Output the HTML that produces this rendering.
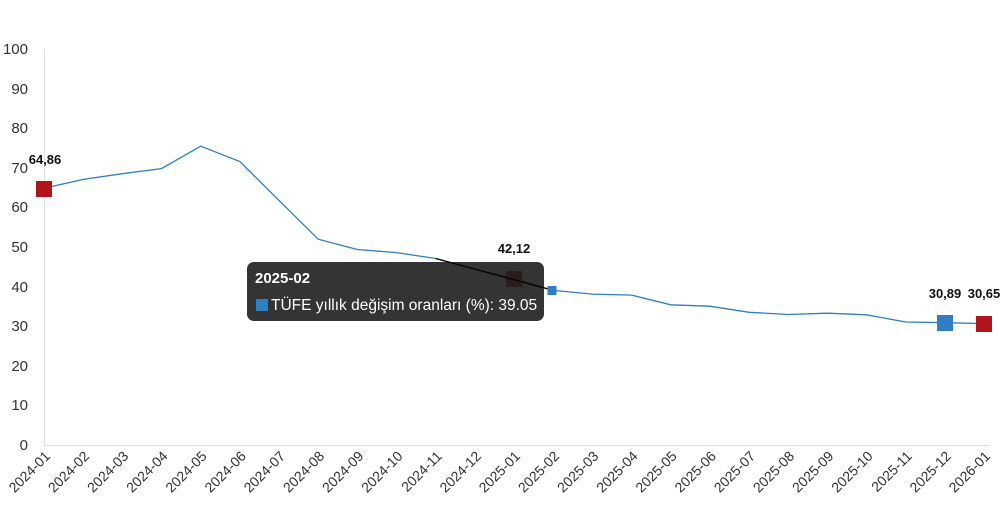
<!DOCTYPE html>
<html><head><meta charset="utf-8"><style>
html,body{margin:0;padding:0;background:#fff;width:1000px;height:513px;overflow:hidden}
svg{display:block;font-family:"Liberation Sans",Arial,sans-serif}
</style></head><body>
<svg width="1000" height="513" viewBox="0 0 1000 513">
<g font-size="15" fill="#333" text-anchor="end">
<text x="28" y="54">100</text><text x="28" y="94">90</text><text x="28" y="133">80</text>
<text x="28" y="173">70</text><text x="28" y="212">60</text><text x="28" y="252">50</text>
<text x="28" y="292">40</text><text x="28" y="331">30</text><text x="28" y="371">20</text>
<text x="28" y="410">10</text><text x="28" y="450">0</text>
</g>
<line x1="44.5" y1="49" x2="44.5" y2="445" stroke="#ddd"/>
<line x1="44" y1="445.5" x2="990" y2="445.5" stroke="#ddd"/>
<polyline fill="none" stroke="#2f7fc1" stroke-width="1.3" points="44,188.2 83.2,179.4 122.3,173.7 161.5,168.6 200.7,146.2 239.9,161.5 279,200.4 318.2,239.2 357.4,249.5 396.5,252.6 435.7,258.5 474.9,269.3 514,278.2 553.2,290.4 592.4,294.1 631.6,295.1 670.7,304.8 709.9,306.2 749.1,312.3 788.2,314.5 827.4,313.2 866.6,314.8 905.7,322 944.9,322.7 984,323.6"/>
<rect x="36" y="181" width="16" height="16" fill="#b0141c"/>
<rect x="937" y="315" width="16" height="16" fill="#2f7fc1"/>
<rect x="976" y="316" width="16" height="16" fill="#b0141c"/>
<rect x="506" y="271" width="16" height="16" fill="#b0141c"/>
<g font-size="13" font-weight="bold" fill="#111" text-anchor="middle">
<text x="45" y="164">64,86</text><text x="514" y="253">42,12</text>
<text x="945" y="298">30,89</text><text x="984" y="298">30,65</text>
</g>
<g font-size="14" fill="#333" text-anchor="end">
<text transform="translate(51,457) rotate(-45)">2024-01</text>
<text transform="translate(90.2,457) rotate(-45)">2024-02</text>
<text transform="translate(129.3,457) rotate(-45)">2024-03</text>
<text transform="translate(168.5,457) rotate(-45)">2024-04</text>
<text transform="translate(207.7,457) rotate(-45)">2024-05</text>
<text transform="translate(246.9,457) rotate(-45)">2024-06</text>
<text transform="translate(286,457) rotate(-45)">2024-07</text>
<text transform="translate(325.2,457) rotate(-45)">2024-08</text>
<text transform="translate(364.4,457) rotate(-45)">2024-09</text>
<text transform="translate(403.5,457) rotate(-45)">2024-10</text>
<text transform="translate(442.7,457) rotate(-45)">2024-11</text>
<text transform="translate(481.9,457) rotate(-45)">2024-12</text>
<text transform="translate(521,457) rotate(-45)">2025-01</text>
<text transform="translate(560.2,457) rotate(-45)">2025-02</text>
<text transform="translate(599.4,457) rotate(-45)">2025-03</text>
<text transform="translate(638.6,457) rotate(-45)">2025-04</text>
<text transform="translate(677.7,457) rotate(-45)">2025-05</text>
<text transform="translate(716.9,457) rotate(-45)">2025-06</text>
<text transform="translate(756.1,457) rotate(-45)">2025-07</text>
<text transform="translate(795.2,457) rotate(-45)">2025-08</text>
<text transform="translate(834.4,457) rotate(-45)">2025-09</text>
<text transform="translate(873.6,457) rotate(-45)">2025-10</text>
<text transform="translate(912.7,457) rotate(-45)">2025-11</text>
<text transform="translate(951.9,457) rotate(-45)">2025-12</text>
<text transform="translate(991,457) rotate(-45)">2026-01</text>
</g>
<rect x="247" y="262" width="297" height="59" rx="7" fill="#1e1e1e" fill-opacity="0.9"/>
<line x1="435.7" y1="258.5" x2="553" y2="290.4" stroke="#000" stroke-width="1.2"/>
<rect x="547.5" y="286" width="9" height="9" fill="#2f7fc1"/>
<text x="255" y="283" font-size="15" font-weight="bold" fill="#fff">2025-02</text>
<rect x="256" y="299" width="12" height="12" fill="#2f7fc1"/>
<text x="271" y="310" font-size="15.5" fill="#fff">TÜFE yıllık değişim oranları (%): 39.05</text>
</svg>
</body></html>
